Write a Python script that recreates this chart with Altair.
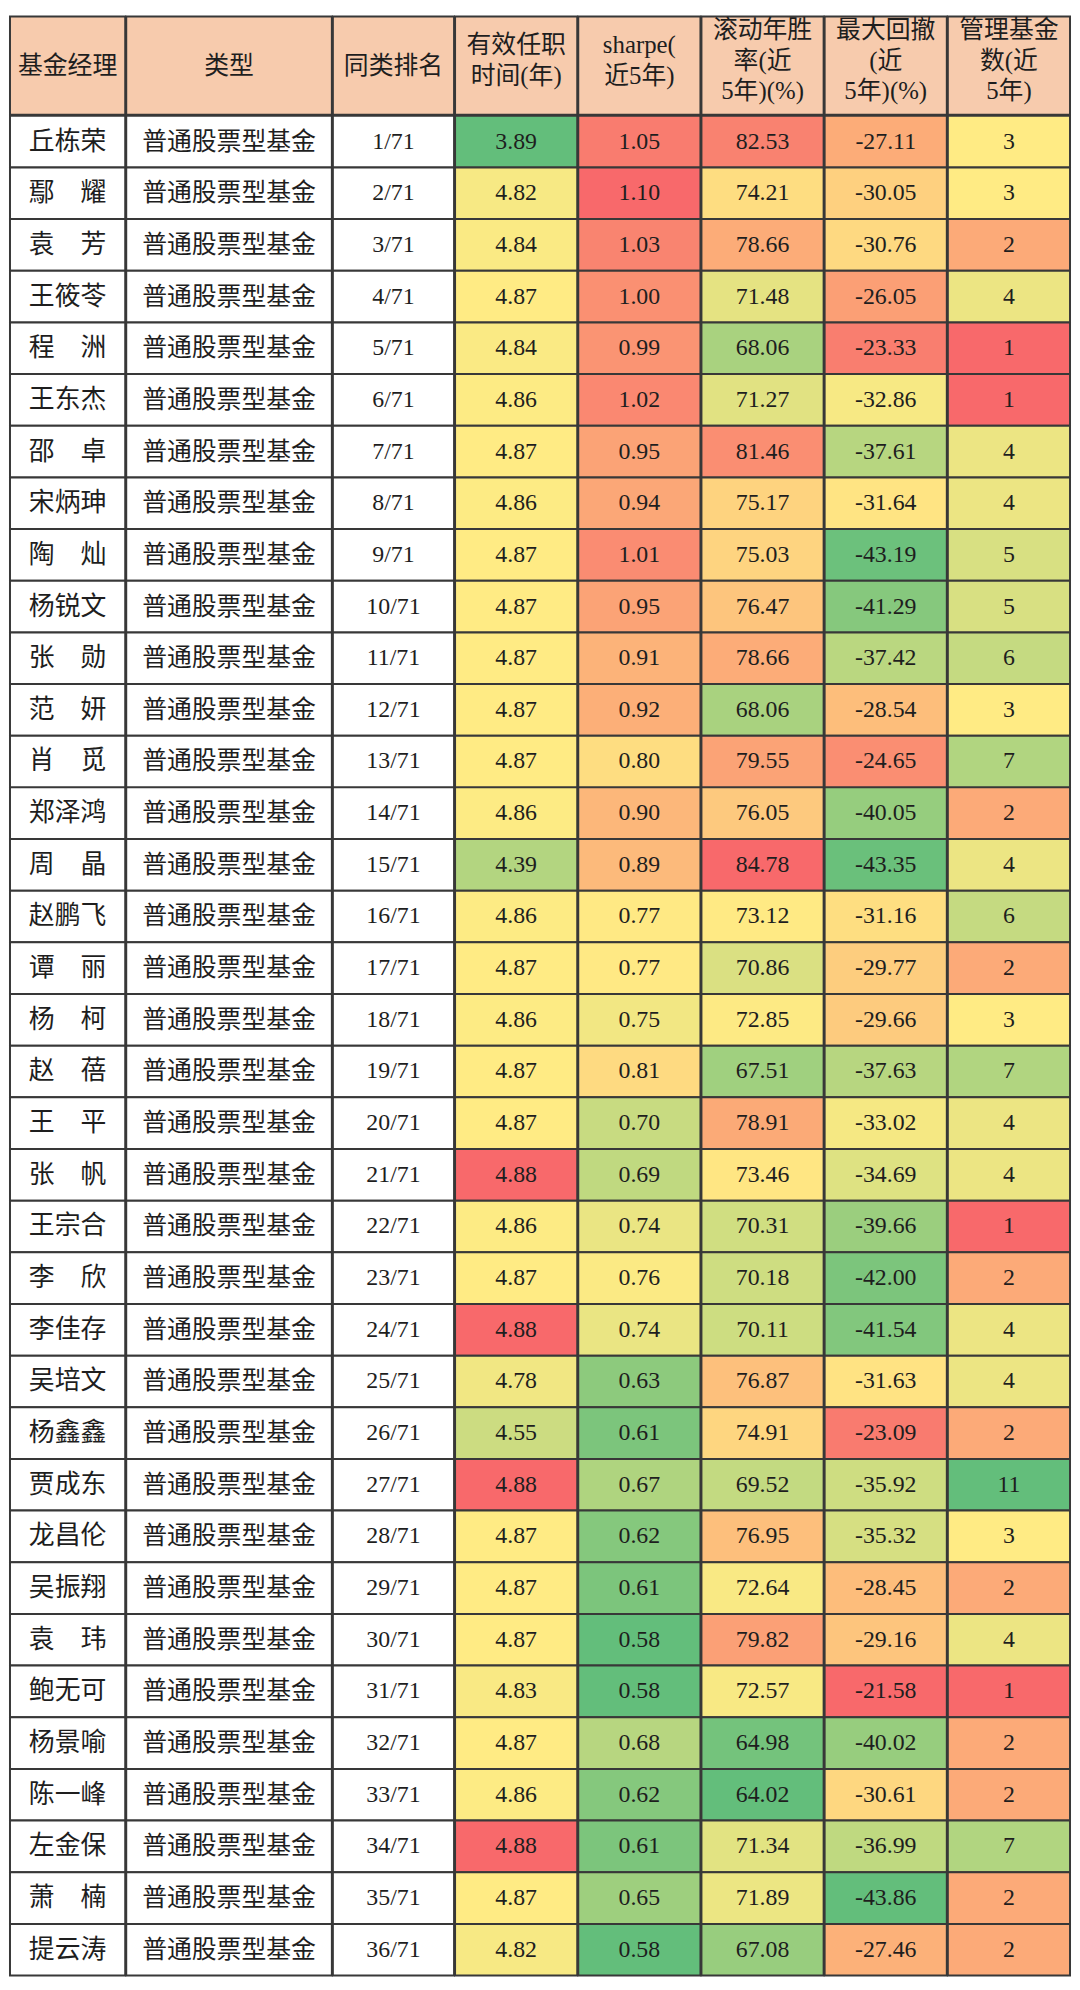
import altair as alt
import numpy as np
import pandas as pd

# ---------------- data ----------------
names = ["丘栋荣", "鄢\u3000耀", "袁\u3000芳", "王筱苓", "程\u3000洲", "王东杰", "邵\u3000卓", "宋炳珅",
         "陶\u3000灿", "杨锐文", "张\u3000勋", "范\u3000妍", "肖\u3000觅", "郑泽鸿", "周\u3000晶", "赵鹏飞",
         "谭\u3000丽", "杨\u3000柯", "赵\u3000蓓", "王\u3000平", "张\u3000帆", "王宗合", "李\u3000欣", "李佳存",
         "吴培文", "杨鑫鑫", "贾成东", "龙昌伦", "吴振翔", "袁\u3000玮", "鲍无可", "杨景喻",
         "陈一峰", "左金保", "萧\u3000楠", "提云涛"]
fund_types = ["普通股票型基金"] * 36
ranks = ["1/71", "2/71", "3/71", "4/71", "5/71", "6/71", "7/71", "8/71", "9/71", "10/71",
         "11/71", "12/71", "13/71", "14/71", "15/71", "16/71", "17/71", "18/71", "19/71", "20/71",
         "21/71", "22/71", "23/71", "24/71", "25/71", "26/71", "27/71", "28/71", "29/71", "30/71",
         "31/71", "32/71", "33/71", "34/71", "35/71", "36/71"]
tenure = [3.89, 4.82, 4.84, 4.87, 4.84, 4.86, 4.87, 4.86, 4.87, 4.87, 4.87, 4.87,
          4.87, 4.86, 4.39, 4.86, 4.87, 4.86, 4.87, 4.87, 4.88, 4.86, 4.87, 4.88,
          4.78, 4.55, 4.88, 4.87, 4.87, 4.87, 4.83, 4.87, 4.86, 4.88, 4.87, 4.82]
sharpe = [1.05, 1.10, 1.03, 1.00, 0.99, 1.02, 0.95, 0.94, 1.01, 0.95, 0.91, 0.92,
          0.80, 0.90, 0.89, 0.77, 0.77, 0.75, 0.81, 0.70, 0.69, 0.74, 0.76, 0.74,
          0.63, 0.61, 0.67, 0.62, 0.61, 0.58, 0.58, 0.68, 0.62, 0.61, 0.65, 0.58]
winrate = [82.53, 74.21, 78.66, 71.48, 68.06, 71.27, 81.46, 75.17, 75.03, 76.47, 78.66, 68.06,
           79.55, 76.05, 84.78, 73.12, 70.86, 72.85, 67.51, 78.91, 73.46, 70.31, 70.18, 70.11,
           76.87, 74.91, 69.52, 76.95, 72.64, 79.82, 72.57, 64.98, 64.02, 71.34, 71.89, 67.08]
drawdown = [-27.11, -30.05, -30.76, -26.05, -23.33, -32.86, -37.61, -31.64, -43.19, -41.29, -37.42, -28.54,
            -24.65, -40.05, -43.35, -31.16, -29.77, -29.66, -37.63, -33.02, -34.69, -39.66, -42.00, -41.54,
            -31.63, -23.09, -35.92, -35.32, -28.45, -29.16, -21.58, -40.02, -30.61, -36.99, -43.86, -27.46]
nfunds = [3, 3, 2, 4, 1, 1, 4, 4, 5, 5, 6, 3, 7, 2, 4, 6, 2, 3, 7, 4, 4, 1, 2, 4,
          4, 2, 11, 3, 2, 4, 1, 2, 2, 7, 2, 2]

headers = ["基金经理", "类型", "同类排名", "有效任职\n时间(年)", "sharpe(\n近5年)",
           "滚动年胜\n率(近\n5年)(%)", "最大回撤\n(近\n5年)(%)", "管理基金\n数(近\n5年)"]

# ---------------- styling ----------------
GREEN, YELLOW, RED = "#63BE7B", "#FFEB84", "#F8696B"
HEADER_FILL = "#F7CBAD"
BORDER = "#383838"
TEXT = "#1e1e1e"
FONT = "Liberation Serif, Noto Sans CJK SC"
ROW_H = 52
HEADER_H = 99
LINE_H = 31
SW = 2  # border width
col_widths = [116, 207, 122, 123, 123, 123, 123, 123]

df = pd.DataFrame({
    "idx": list(range(len(names))),
    "name": names,
    "ftype": fund_types,
    "rank": ranks,
    "tenure": tenure,
    "sharpe": sharpe,
    "winrate": winrate,
    "drawdown": drawdown,
    "nfunds": nfunds,
})
for k in ["tenure", "sharpe", "winrate", "drawdown"]:
    df[k + "_txt"] = [f"{v:.2f}" for v in df[k]]
df["nfunds_txt"] = [str(v) for v in df["nfunds"]]
df["name_txt"] = df["name"]
df["ftype_txt"] = df["ftype"]
df["rank_txt"] = df["rank"]


def three_color(values, reverse=False):
    v = np.array(values, dtype=float)
    dom = [float(v.min()), float(np.percentile(v, 50)), float(v.max())]
    rng = [RED, YELLOW, GREEN] if reverse else [GREEN, YELLOW, RED]
    return alt.Scale(domain=dom, range=rng, interpolate="rgb")


columns = [
    ("name", None, 26),
    ("ftype", None, 25),
    ("rank", None, 24),
    ("tenure", three_color(tenure), 24),
    ("sharpe", three_color(sharpe), 24),
    ("winrate", three_color(winrate), 24),
    ("drawdown", three_color(drawdown), 24),
    ("nfunds", three_color(nfunds, reverse=True), 24),
]

band = alt.Scale(paddingInner=0, paddingOuter=0)


def header_panel(label, width):
    n_lines = label.count("\n") + 1
    shift = -(n_lines - 1) * LINE_H / 2 - (5 if n_lines > 1 else 0)
    base = alt.Chart(alt.Data(values=[{"h": label}])).transform_calculate(
        col="'c'"
    ).encode(
        x=alt.X("col:N", axis=None, scale=band),
        y=alt.Y("col:N", axis=None, scale=band),
    )
    rect = base.mark_rect(fill=HEADER_FILL, stroke=BORDER, strokeWidth=SW)
    text = base.mark_text(font=FONT, fontSize=25, color=TEXT, lineBreak="\n",
                          lineHeight=LINE_H, baseline="middle",
                          dy=shift).encode(text="h:N")
    return alt.layer(rect, text).properties(width=width, height=HEADER_H)


def body_panel(key, scale, fsize, width):
    base = alt.Chart(df).transform_calculate(col="'c'").encode(
        x=alt.X("col:N", axis=None, scale=band),
        y=alt.Y("idx:O", axis=None, scale=band),
    )
    if scale is None:
        fill = alt.value("white")
    else:
        fill = alt.Fill(f"{key}:Q", scale=scale, legend=None)
    rect = base.mark_rect(stroke=BORDER, strokeWidth=SW).encode(fill=fill)
    text = base.mark_text(font=FONT, fontSize=fsize, color=TEXT,
                          baseline="middle").encode(text=f"{key}_txt:N")
    return alt.layer(rect, text).properties(width=width, height=ROW_H * len(names))


panels = []
for (key, scale, fsize), label, w in zip(columns, headers, col_widths):
    col = alt.vconcat(header_panel(label, w), body_panel(key, scale, fsize, w),
                      spacing=-SW)
    col = col.resolve_scale(x="independent", y="independent", fill="independent")
    panels.append(col)

chart = alt.hconcat(*panels, spacing=-SW).resolve_scale(
    x="independent", y="independent", fill="independent"
).properties(
    padding={"left": 1, "top": 1, "right": 1, "bottom": 1},
    background="white",
).configure_view(strokeWidth=0)

chart.save("out.html", embed_options={"renderer": "svg", "actions": False})
